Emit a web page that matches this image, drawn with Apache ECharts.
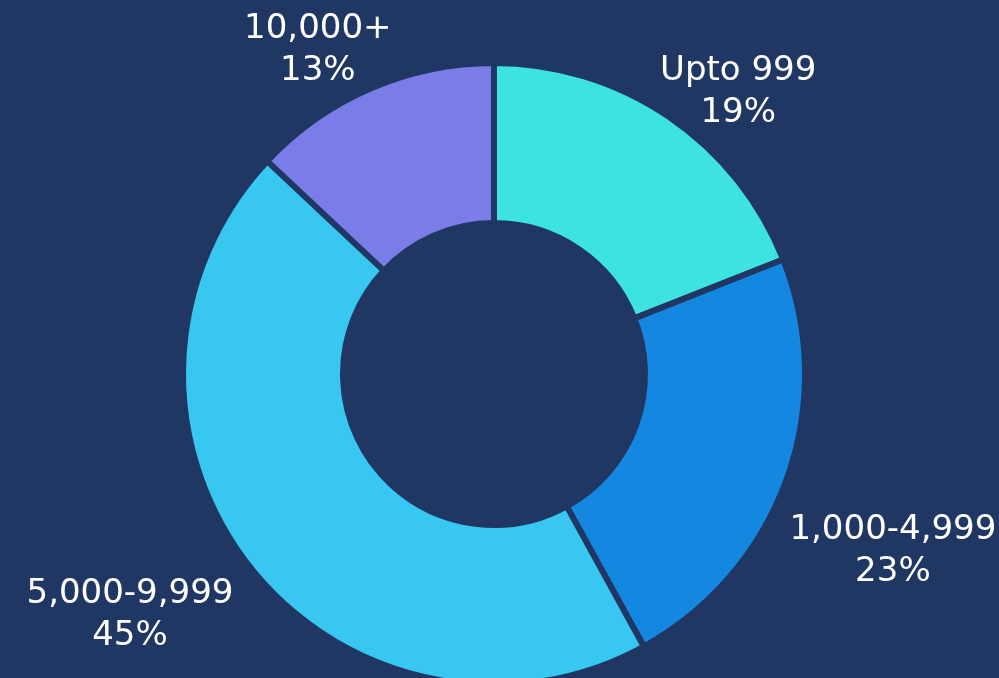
<!DOCTYPE html>
<html><head><meta charset="utf-8">
<script src="https://cdn.jsdelivr.net/npm/echarts@6/dist/echarts.min.js"></script>
<style>html,body{margin:0;padding:0;background:#203764;}#c{width:999px;height:678px;}</style>
</head><body><div id="c"></div>
<script>
const categories = ['Upto 999', '1,000-4,999', '5,000-9,999', '10,000+'];
const values = [19, 23, 45, 13];
const colors = ['#3de4df', '#1488e0', '#37c7f0', '#7a7de8'];

const chart = echarts.init(document.getElementById('c'));
chart.setOption({
  backgroundColor: '#203764',
  animation: false,
  series: [{
    type: 'pie',
    center: [494, 374],
    radius: [151, 311],
    startAngle: 90,
    clockwise: true,
    data: categories.map((c, i) => ({ name: c, value: values[i], itemStyle: { color: colors[i] } })),
    itemStyle: { borderColor: '#203764', borderWidth: 6 },
    label: {
      show: true,
      position: 'outside',
      formatter: p => p.name + '\n' + p.value + '%',
      color: '#ffffff',
      fontFamily: '"DejaVu Sans", sans-serif',
      fontSize: 34,
      lineHeight: 42,
      overflow: 'none'
    },
    labelLine: { show: false, length: 20, length2: 0 },
    labelLayout: function (p) {
      // nudge each label from its default outside anchor (pixels)
      const nudge = [[-25, -8], [-21, 65], [6, 38], [34, -20]];
      const r = p.labelRect;
      const n = nudge[p.dataIndex];
      return { x: r.x + r.width / 2 + n[0], y: r.y + r.height / 2 + n[1], align: 'center', verticalAlign: 'middle' };
    }
  }]
});
</script></body></html>
